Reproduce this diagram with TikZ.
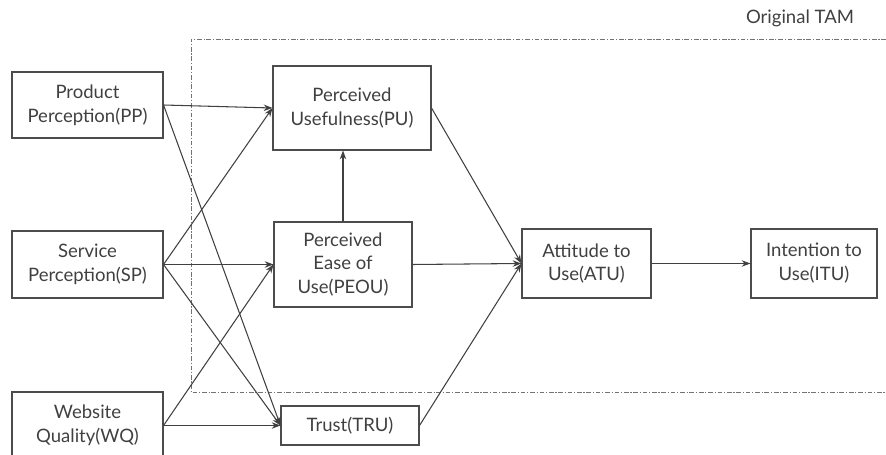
\documentclass[tikz,border=0pt]{standalone}
\usepackage{fontspec}
\setmainfont{Lato}
\usetikzlibrary{arrows.meta}

\begin{document}
\begin{tikzpicture}[x=0.03cm, y=-0.03cm,
    every node/.style={font=\fontsize{15.8}{20.4}\selectfont, text=black!75},
    factor/.style={draw=black!70, line width=0.9pt, align=center, inner sep=0pt},
    link/.style={draw=black!75, line width=0.9pt, -{Stealth[length=7.5pt,width=5.5pt]}},
    tam/.style={draw=black!55, line width=0.7pt, dash pattern=on 4pt off 1.5pt on 1pt off 1.5pt}]
    \clip (0,0) rectangle (886,455);
    \draw[tam] (886,39) -- (191,39) -- (191,392) -- (886,392);
    \node (tamlabel) at (800,18) {Original TAM};
    \node[factor, minimum width=4.53cm, minimum height=1.98cm] (pp) at (87.5,105) {Product\\Perception(PP)};
    \node[factor, minimum width=4.53cm, minimum height=2.01cm] (sp) at (87.5,264.5) {Service\\Perception(SP)};
    \node[factor, minimum width=4.53cm, minimum height=2.01cm] (wq) at (87.5,425.5) {Website\\Quality(WQ)};
    \node[factor, minimum width=4.74cm, minimum height=2.52cm] (pu) at (352,108) {Perceived\\Usefulness(PU)};
    \node[factor, minimum width=4.14cm, minimum height=2.55cm] (peou) at (343,264.5) {Perceived\\Ease of\\Use(PEOU)};
    \node[factor, minimum width=4.14cm, minimum height=1.17cm] (tru) at (350,425.5) {Trust(TRU)};
    \node[factor, minimum width=3.87cm, minimum height=2.07cm] (atu) at (586.5,263.5) {Attitude to\\Use(ATU)};
    \node[factor, minimum width=3.78cm, minimum height=2.07cm] (itu) at (814,263.5) {Intention to\\Use(ITU)};
    \draw[link] (pp.east) -- (pu.west);
    \draw[link] (pp.east) -- (tru.west);
    \draw[link] (sp.east) -- (pu.west);
    \draw[link] (sp.east) -- (peou.west);
    \draw[link] (sp.east) -- (tru.west);
    \draw[link] (wq.east) -- (peou.west);
    \draw[link] (wq.east) -- (tru.west);
    \draw[link] (peou.north) -- (peou.north |- pu.south);
    \draw[link] (pu.east) -- (atu.west);
    \draw[link] (peou.east) -- (atu.west);
    \draw[link] (tru.east) -- (atu.west);
    \draw[link] (atu.east) -- (itu.west);
\end{tikzpicture}
\end{document}
